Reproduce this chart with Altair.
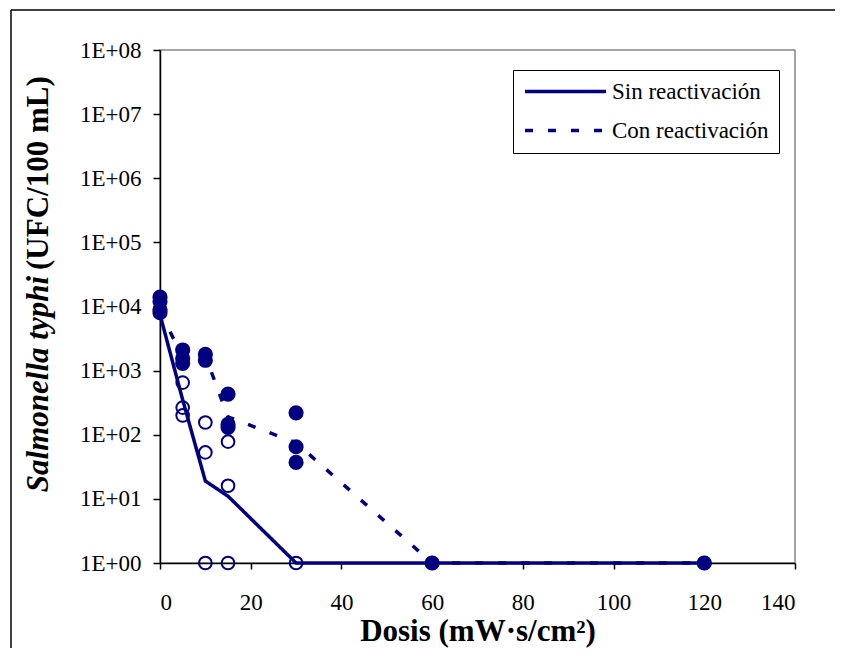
import altair as alt
import pandas as pd

NAVY = "#000080"
FONT = "Liberation Serif"

# Sin reactivación (open circles) - individual samples
sin_x = [5, 5, 5, 10, 10, 10, 15, 15, 15, 30, 60, 120]
sin_y = [650, 265, 200, 155, 53, 1, 78, 16, 1, 1, 1, 1]

# Con reactivación (filled circles) - individual samples
con_x = [0, 0, 0, 0, 5, 5, 5, 10, 10, 15, 15, 15, 30, 30, 30, 60, 120]
con_y = [14000, 12000, 9000, 8000, 2100, 1550, 1300, 1800, 1450, 430, 145, 130, 220, 65, 37, 1, 1]

# Mean lines
line_x = [0, 5, 10, 15, 30, 60, 120]
sin_line_y = [7500, 350, 19, 11, 1, 1, 1]
con_line_y = [8500, 1600, 1700, 190, 75, 1, 1]

series = ["Sin reactivación", "Con reactivación"]
x_ticks = [0, 20, 40, 60, 80, 100, 120, 140]
y_ticks = [1, 10, 100, 1000, 10000, 100000, 1000000, 10000000, 100000000]

df_sin_pts = pd.DataFrame({"x": sin_x, "y": sin_y})
df_con_pts = pd.DataFrame({"x": con_x, "y": con_y})
df_sin_line = pd.DataFrame({"x": line_x, "y": sin_line_y, "serie": series[0]})
df_con_line = pd.DataFrame({"x": line_x, "y": con_line_y, "serie": series[1]})

xs = alt.X("x:Q", scale=alt.Scale(domain=[0, 140], nice=False),
           axis=alt.Axis(values=x_ticks, title="Dosis (mW·s/cm²)", grid=False,
                         tickSize=6, labelPadding=22, titlePadding=2))
ys = alt.Y("y:Q", scale=alt.Scale(type="log", domain=[1, 1e8], nice=False),
           axis=alt.Axis(values=y_ticks, title=None, grid=False, tickSize=7,
                         labelPadding=12,
                         labelExpr="'1E+0' + round(log(datum.value)/LN10)"))

dash_scale = alt.Scale(domain=series, range=[[1, 0], [8, 15]])
dash_legend = alt.Legend(title=None, orient="none", legendX=353, legendY=20,
                         strokeColor="black", fillColor="white", padding=10,
                         rowPadding=15, symbolType="stroke", symbolSize=6561,
                         clipHeight=23,
                         symbolStrokeWidth=3.5, symbolStrokeColor=NAVY,
                         labelFont=FONT, labelFontSize=23, labelColor="black",
                         labelOffset=4, labelLimit=0)

con_line = alt.Chart(df_con_line).mark_line(color=NAVY, strokeWidth=3.5).encode(
    x=xs, y=ys, strokeDash=alt.StrokeDash("serie:N", scale=dash_scale, legend=dash_legend))
sin_line = alt.Chart(df_sin_line).mark_line(color=NAVY, strokeWidth=3.5).encode(
    x=xs, y=ys, strokeDash=alt.StrokeDash("serie:N", scale=dash_scale, legend=dash_legend))

open_pts = alt.Chart(df_sin_pts).mark_point(shape="circle", filled=False, color=NAVY,
                                            size=160, strokeWidth=2, opacity=1).encode(x=xs, y=ys)
filled_pts = alt.Chart(df_con_pts).mark_point(shape="circle", filled=True, color=NAVY,
                                              size=230, opacity=1).encode(x=xs, y=ys)

# Y-axis title in two styles (bold italic + bold)
ytitle_a = alt.Chart(pd.DataFrame({"t": ["Salmonella typhi"]})).mark_text(
    angle=270, align="right", baseline="middle", font=FONT, fontSize=31,
    fontWeight="bold", fontStyle="italic", color="black").encode(
    text="t:N", x=alt.value(-121), y=alt.value(226))
ytitle_b = alt.Chart(pd.DataFrame({"t": ["(UFC/100 mL)"]})).mark_text(
    angle=270, align="left", baseline="middle", font=FONT, fontSize=31,
    fontWeight="bold", color="black").encode(
    text="t:N", x=alt.value(-121), y=alt.value(220))

# Outer chart frame
frame_left = alt.Chart(pd.DataFrame({"a": [0]})).mark_rule(color="black", strokeWidth=1.5).encode(
    x=alt.value(-149), y=alt.value(-40), y2=alt.value(700))
frame_top = alt.Chart(pd.DataFrame({"a": [0]})).mark_rule(color="black", strokeWidth=1.5).encode(
    x=alt.value(-149), x2=alt.value(800), y=alt.value(-40))

chart = alt.layer(
    frame_left, frame_top, con_line, sin_line, open_pts, filled_pts, ytitle_a, ytitle_b
).properties(
    width=635, height=513,
    autosize=alt.AutoSizeParams(type="none"),
    padding={"left": 152, "top": 42, "right": 40, "bottom": 85},
    background="white",
).configure_view(
    stroke="#888888", strokeWidth=1.5
).configure_axis(
    domainColor="black", domainWidth=1.5, tickColor="black", tickWidth=1.5,
    labelFont=FONT, labelFontSize=23, labelColor="black",
    titleFont=FONT, titleFontSize=31, titleFontWeight="bold", titleColor="black"
)

chart.save("out.html", embed_options={"renderer": "svg", "actions": False})
